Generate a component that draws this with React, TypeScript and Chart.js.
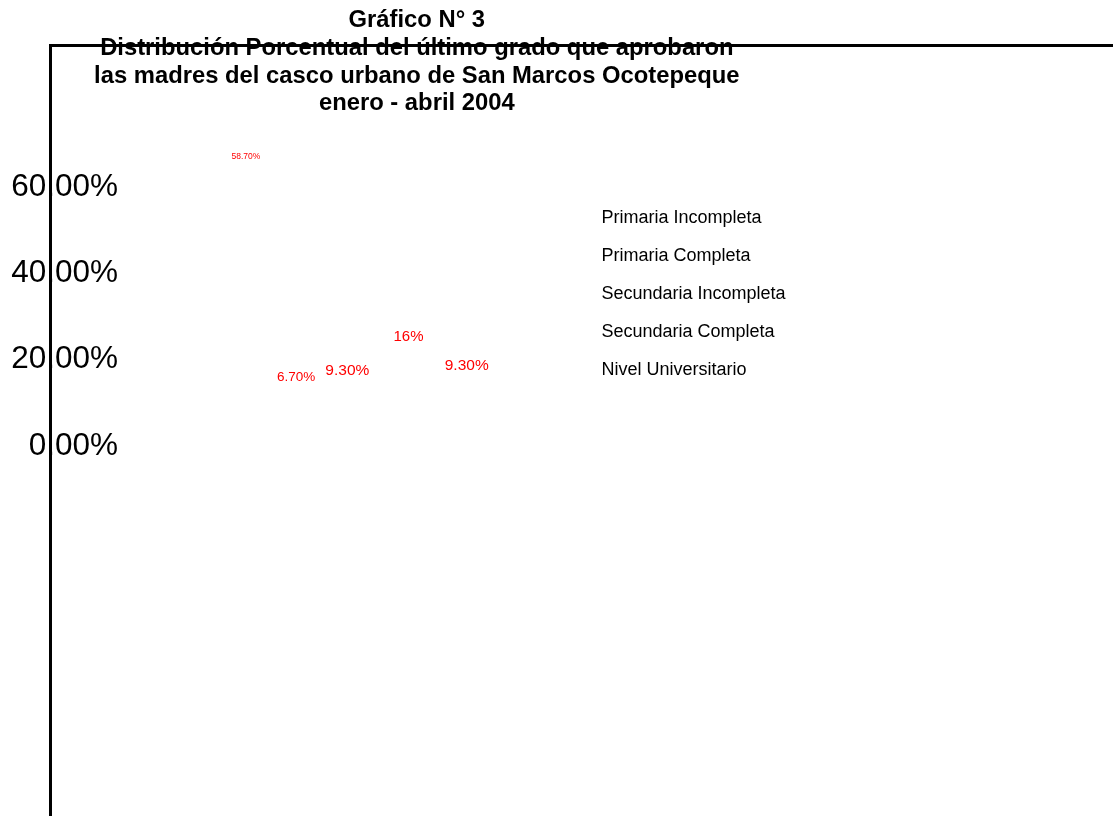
import React, { useEffect, useRef } from 'react';
import { Chart, registerables } from 'chart.js';

Chart.register(...registerables);

// ---- data ----
const categories = [
  'Primaria Incompleta',
  'Primaria Completa',
  'Secundaria Incompleta',
  'Secundaria Completa',
  'Nivel Universitario',
];
const values = [58.7, 6.7, 9.3, 16, 9.3];
const valueLabels = ['58.70%', '6.70%', '9.30%', '16%', '9.30%'];
const yTicks = [0, 20, 40, 60];
const titleLines = [
  'Gráfico N° 3',
  'Distribución Porcentual del último grado que aprobaron',
  'las madres del casco urbano de San Marcos Ocotepeque',
  'enero - abril 2004',
];

// ---- styles ----
const FONT = '"Liberation Sans", Arial, Helvetica, sans-serif';
const labelFontSizes = [8.5, 13.5, 15.5, 15, 15.5];
const labelShiftX = [0, -5, -9, -3, 0];
const labelRise = [36.5, 40, 35, 40.5, 40];

const CANVAS_W = 1140;
const CANVAS_H = 880;

const valueLabelPlugin = {
  id: 'valueLabels',
  afterDatasetsDraw(chart: any) {
    const meta = chart.getDatasetMeta(0);
    const ctx = chart.ctx;
    ctx.save();
    ctx.fillStyle = '#ff0000';
    ctx.textAlign = 'center';
    ctx.textBaseline = 'middle';
    meta.data.forEach((bar: any, i: number) => {
      ctx.font = `${labelFontSizes[i]}px ${FONT}`;
      ctx.fillText(valueLabels[i], bar.x + labelShiftX[i], bar.y - labelRise[i]);
    });
    ctx.restore();
  },
};

const titlePlugin = {
  id: 'multiTitle',
  afterDraw(chart: any) {
    const ctx = chart.ctx;
    ctx.save();
    ctx.fillStyle = '#000';
    ctx.textAlign = 'center';
    ctx.textBaseline = 'alphabetic';
    ctx.font = `bold 23.8px ${FONT}`;
    titleLines.forEach((line, i) => {
      ctx.fillText(line, 416.8, 27.3 + i * 27.6);
    });
    ctx.restore();
  },
};

export default function App() {
  const canvasRef = useRef<HTMLCanvasElement | null>(null);

  useEffect(() => {
    if (!canvasRef.current) return;
    const chart = new Chart(canvasRef.current, {
      type: 'bar',
      data: {
        datasets: [
          {
            label: 'Distribución',
            data: values.map((v, i) => ({ x: i, y: v })) as any,
            backgroundColor: 'rgba(255,255,255,0)',
            borderWidth: 0,
            categoryPercentage: 0.8,
            barPercentage: 0.9,
          },
        ],
      },
      options: {
        animation: false,
        responsive: false,
        maintainAspectRatio: false,
        devicePixelRatio: 1,
        layout: { padding: 0 },
        scales: {
          x: {
            type: 'linear',
            position: 'top',
            min: -3.55,
            max: 16.2,
            offset: false,
            grid: { display: false, drawTicks: false, offset: false },
            ticks: { display: false },
            border: { display: true, color: '#000', width: 3, z: 1 },
            afterFit: (s: any) => {
              s.height = 45;
            },
          },
          y: {
            type: 'linear',
            position: 'left',
            min: -100.7,
            max: 93.04,
            grid: { display: false, drawTicks: false },
            border: { display: true, color: '#000', width: 3, z: 1 },
            ticks: {
              color: '#000',
              font: { family: FONT, size: 31.5 },
              mirror: true,
              crossAlign: 'far',
              padding: -38.8,
              autoSkip: false,
              callback: (v: any) => Number(v).toFixed(2) + '%',
            },
            afterBuildTicks: (s: any) => {
              s.ticks = yTicks.map((v) => ({ value: v }));
            },
            afterFit: (s: any) => {
              s.width = 50;
            },
          },
        },
        plugins: {
          title: { display: false },
          tooltip: { enabled: false },
          legend: {
            display: true,
            position: 'chartArea' as any,
            align: 'start',
            title: {
              display: true,
              text: ' ',
              font: { size: 10, lineHeight: 1 },
              padding: { top: 179.5, bottom: 0 },
            },
            labels: {
              boxWidth: 522.5,
              boxHeight: 17.5,
              padding: 20,
              color: '#000',
              font: { family: FONT, size: 18 },
              generateLabels: () =>
                categories.map((c, i) => ({
                  text: c,
                  fillStyle: 'rgba(0,0,0,0)',
                  strokeStyle: 'rgba(0,0,0,0)',
                  fontColor: '#000',
                  lineWidth: 0,
                  hidden: false,
                  index: i,
                  datasetIndex: 0,
                })),
            },
          },
        },
      },
      plugins: [valueLabelPlugin, titlePlugin],
    } as any);
    return () => chart.destroy();
  }, []);

  return (
    <div style={{ position: 'fixed', left: 0, top: 0, width: CANVAS_W, height: CANVAS_H, background: '#fff' }}>
      <canvas
        ref={canvasRef}
        width={CANVAS_W}
        height={CANVAS_H}
        style={{ display: 'block', width: CANVAS_W, height: CANVAS_H }}
      />
    </div>
  );
}
